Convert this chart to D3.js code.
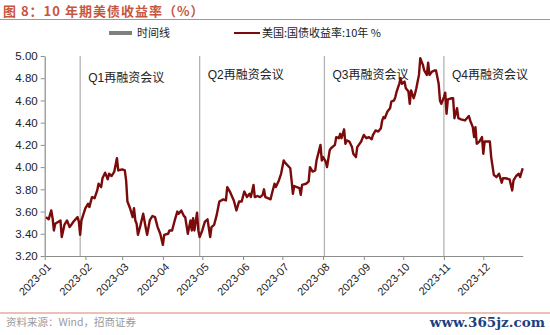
<!DOCTYPE html>
<html><head><meta charset="utf-8">
<script src="https://cdn.jsdelivr.net/npm/d3@7"></script>
<style>
html,body{margin:0;padding:0;background:#fff;}
svg{display:block;}
</style>
</head><body>
<svg id="c" width="550" height="335"></svg>
<script>
const dates = [
"2023-01-02","2023-01-04","2023-01-06","2023-01-07","2023-01-08","2023-01-09","2023-01-13","2023-01-14","2023-01-16","2023-01-18",
"2023-01-20","2023-01-23","2023-01-26","2023-01-27","2023-01-28","2023-01-29","2023-02-01","2023-02-03","2023-02-04","2023-02-06",
"2023-02-08","2023-02-10","2023-02-11","2023-02-13","2023-02-14","2023-02-16","2023-02-18","2023-02-19","2023-02-21","2023-02-23",
"2023-02-25","2023-02-26","2023-03-01","2023-03-03","2023-03-04","2023-03-05","2023-03-07","2023-03-09","2023-03-10","2023-03-11",
"2023-03-12","2023-03-13","2023-03-15","2023-03-17","2023-03-19","2023-03-20","2023-03-22","2023-03-24","2023-03-26","2023-03-28",
"2023-03-30","2023-04-01","2023-04-02","2023-04-05","2023-04-06","2023-04-08","2023-04-10","2023-04-12","2023-04-13","2023-04-15",
"2023-04-17","2023-04-18","2023-04-20","2023-04-22","2023-04-23","2023-04-24","2023-04-25","2023-04-27","2023-04-28","2023-04-29",
"2023-05-01","2023-05-03","2023-05-05","2023-05-07","2023-05-08","2023-05-10","2023-05-12","2023-05-14","2023-05-17","2023-05-19",
"2023-05-20","2023-05-22","2023-05-25","2023-05-27","2023-05-29","2023-05-31","2023-06-02","2023-06-04","2023-06-06","2023-06-07",
"2023-06-09","2023-06-10","2023-06-12","2023-06-14","2023-06-16","2023-06-17","2023-06-18","2023-06-20","2023-06-22","2023-06-23",
"2023-06-25","2023-06-26","2023-06-28","2023-06-30","2023-07-02","2023-07-03","2023-07-07","2023-07-08","2023-07-09","2023-07-10",
"2023-07-12","2023-07-14","2023-07-15","2023-07-16","2023-07-19","2023-07-21","2023-07-22","2023-07-24","2023-07-26","2023-07-27",
"2023-07-30","2023-07-31","2023-08-01","2023-08-03","2023-08-04","2023-08-06","2023-08-07","2023-08-10","2023-08-11","2023-08-13",
"2023-08-14","2023-08-15","2023-08-17","2023-08-18","2023-08-19","2023-08-21","2023-08-23","2023-08-24","2023-08-26","2023-08-27",
"2023-08-30","2023-09-01","2023-09-03","2023-09-05","2023-09-07","2023-09-08","2023-09-10","2023-09-12","2023-09-14","2023-09-15",
"2023-09-16","2023-09-17","2023-09-19","2023-09-21","2023-09-22","2023-09-24","2023-09-25","2023-09-26","2023-09-28","2023-09-29",
"2023-09-30","2023-10-02","2023-10-03","2023-10-05","2023-10-06","2023-10-07","2023-10-09","2023-10-10","2023-10-11","2023-10-13",
"2023-10-14","2023-10-16","2023-10-17","2023-10-19","2023-10-20","2023-10-21","2023-10-23","2023-10-25","2023-10-26","2023-10-28",
"2023-10-29","2023-10-30","2023-11-01","2023-11-02","2023-11-03","2023-11-04","2023-11-07","2023-11-08","2023-11-09","2023-11-11",
"2023-11-12","2023-11-14","2023-11-17","2023-11-20","2023-11-21","2023-11-23","2023-11-24","2023-11-25","2023-11-26","2023-11-28",
"2023-11-30","2023-12-01","2023-12-02","2023-12-06","2023-12-07","2023-12-09","2023-12-11","2023-12-13","2023-12-15","2023-12-16",
"2023-12-18","2023-12-21","2023-12-23","2023-12-24","2023-12-26","2023-12-28","2023-12-29","2023-12-31"
];
const yields = [
3.55,3.53,3.61,3.54,3.43,3.49,3.52,3.37,3.48,3.52,
3.46,3.51,3.55,3.51,3.39,3.52,3.63,3.67,3.64,3.73,
3.72,3.79,3.85,3.82,3.90,3.95,3.89,3.94,3.92,3.96,
4.08,3.97,3.98,3.97,3.88,3.69,3.63,3.55,3.63,3.52,
3.49,3.39,3.48,3.58,3.45,3.39,3.52,3.56,3.55,3.46,
3.40,3.30,3.39,3.40,3.43,3.43,3.52,3.60,3.58,3.61,
3.56,3.55,3.40,3.52,3.43,3.54,3.43,3.59,3.43,3.37,
3.43,3.51,3.53,3.37,3.46,3.48,3.57,3.69,3.71,3.70,
3.82,3.78,3.70,3.61,3.69,3.69,3.78,3.73,3.76,3.73,
3.84,3.73,3.74,3.73,3.75,3.80,3.73,3.72,3.71,3.76,
3.85,3.82,3.87,3.94,4.06,4.04,3.99,3.88,3.76,3.83,
3.82,3.81,3.75,3.84,3.85,3.87,4.00,3.96,3.97,4.06,
4.20,4.06,4.09,4.05,4.00,4.15,4.17,4.20,4.27,4.26,
4.30,4.26,4.34,4.21,4.24,4.23,4.18,4.12,4.09,4.18,
4.23,4.29,4.26,4.27,4.25,4.29,4.33,4.32,4.35,4.42,
4.45,4.44,4.50,4.53,4.59,4.60,4.63,4.68,4.75,4.80,
4.75,4.77,4.71,4.68,4.57,4.69,4.62,4.66,4.71,4.83,
4.98,4.92,4.87,4.83,4.94,4.83,4.86,4.87,4.87,4.75,
4.60,4.57,4.63,4.67,4.48,4.61,4.62,4.62,4.44,4.53,
4.44,4.43,4.42,4.46,4.42,4.36,4.27,4.36,4.21,4.23,
4.27,4.12,4.23,4.23,4.09,3.93,3.91,3.94,3.86,3.90,
3.90,3.89,3.79,3.88,3.92,3.94,3.91,3.99
];
const meetingDates = ["2023-01-28","2023-04-29","2023-08-02","2023-11-01"];
const meetingLabels = ["Q1再融资会议","Q2再融资会议","Q3再融资会议","Q4再融资会议"];
const yTicks = [3.2,3.4,3.6,3.8,4.0,4.2,4.4,4.6,4.8,5.0];
const monthTicks = ["2023-01","2023-02","2023-03","2023-04","2023-05","2023-06","2023-07","2023-08","2023-09","2023-10","2023-11","2023-12"];
const titleText = "图 8：10 年期美债收益率（%）";
const legendLabels = ["时间线","美国:国债收益率:10年 %"];
const sourceText = "资料来源：Wind，招商证券";
const watermark = "www.365jz.com";

const parse = d3.timeParse("%Y-%m-%d");
const parseM = d3.timeParse("%Y-%m");
const data = dates.map((d,i)=>({date:parse(d), v:yields[i]}));

const svg = d3.select("#c");
const L = 44.7, R = 522.7, T = 56, B = 256;
const x = d3.scaleTime().domain([parse("2023-01-01"), parse("2023-12-31")]).range([L, R]);
const y = d3.scaleLinear().domain([3.2, 5.0]).range([B, T]);

const font = "'Liberation Sans', Arial, 'Noto Sans CJK SC', sans-serif";
const cjk = "'Noto Sans CJK SC', 'Liberation Sans', sans-serif";

// title
svg.append("text").attr("x", 3).attr("y", 15.5).attr("fill", "#c8553d")
  .attr("font-family", cjk).attr("font-weight", "bold").attr("font-size", 13)
  .attr("letter-spacing", 1)
  .text(titleText);
svg.append("line").attr("x1",0).attr("x2",550).attr("y1",19.5).attr("y2",19.5)
  .attr("stroke","#d9826a").attr("stroke-width",1.2);

// meeting lines
svg.append("g").selectAll("line").data(meetingDates).join("line")
  .attr("x1", d=>x(parse(d))).attr("x2", d=>x(parse(d)))
  .attr("y1", T).attr("y2", B)
  .attr("stroke", "#b4b4b4").attr("stroke-width", 1.3);
svg.append("g").selectAll("text").data(meetingLabels).join("text")
  .attr("x", (d,i)=>x(parse(meetingDates[i])) + 8)
  .attr("y", (d,i)=> i===0 ? 78 : 75)
  .attr("dy","0.35em")
  .attr("font-family", font).attr("font-size", 12).attr("fill", "#222")
  .text(d=>d);

// y axis
const yAxis = d3.axisLeft(y).tickValues(yTicks).tickFormat(d3.format(".2f")).tickSize(4).tickSizeOuter(0);
const gy = svg.append("g").attr("transform", `translate(${L},0)`).call(yAxis);
gy.select(".domain").attr("stroke","#8c8c8c").attr("stroke-width",1.2);
gy.selectAll(".tick line").attr("stroke","#8c8c8c");
gy.selectAll(".tick text").attr("font-family", font).attr("font-size", 11.5).attr("fill","#222").attr("x",-7);

// x axis
const xAxis = d3.axisBottom(x).tickValues(monthTicks.map(parseM)).tickFormat(d3.timeFormat("%Y-%m")).tickSize(4).tickSizeOuter(0);
const gx = svg.append("g").attr("transform", `translate(0,${B})`).call(xAxis);
gx.select(".domain").attr("stroke","#8c8c8c").attr("stroke-width",1.2);
gx.selectAll(".tick line").attr("stroke","#8c8c8c");
gx.selectAll(".tick text").attr("font-family", font).attr("font-size", 11).attr("fill","#222")
  .attr("text-anchor","end").attr("y",0).attr("dy","0.35em")
  .attr("transform","translate(4,9) rotate(-45)");

// series line
const line = d3.line().x(d=>x(d.date)).y(d=>y(d.v)).curve(d3.curveLinear);
svg.append("path").datum(data).attr("d", line).attr("fill","none")
  .attr("stroke","#7b0a0a").attr("stroke-width",2.4).attr("stroke-linejoin","round");

// legend
svg.append("rect").attr("x",109).attr("y",31).attr("width",23).attr("height",4).attr("fill","#808080");
svg.append("text").attr("x",137).attr("y",33).attr("dy","0.35em").attr("font-family",cjk).attr("font-size",11).attr("fill","#222").text(legendLabels[0]);
svg.append("line").attr("x1",234).attr("x2",260).attr("y1",33).attr("y2",33).attr("stroke","#7b0a0a").attr("stroke-width",2);
svg.append("text").attr("x",262).attr("y",33).attr("dy","0.35em").attr("font-family",cjk).attr("font-size",11).attr("fill","#222").text(legendLabels[1]);

// footer
svg.append("line").attr("x1",0).attr("x2",550).attr("y1",313).attr("y2",313)
  .attr("stroke","#d9826a").attr("stroke-width",1.2);
svg.append("text").attr("x",6).attr("y",326).attr("font-family",cjk).attr("font-size",10.5).attr("fill","#9a9a9a").text(sourceText);
svg.append("text").attr("x",545).attr("y",327).attr("text-anchor","end").attr("font-family","'DejaVu Serif', 'Liberation Serif', serif").attr("font-weight","bold").attr("font-size",13.5).attr("fill","#1f3f7f").text(watermark);
</script>
</body></html>
